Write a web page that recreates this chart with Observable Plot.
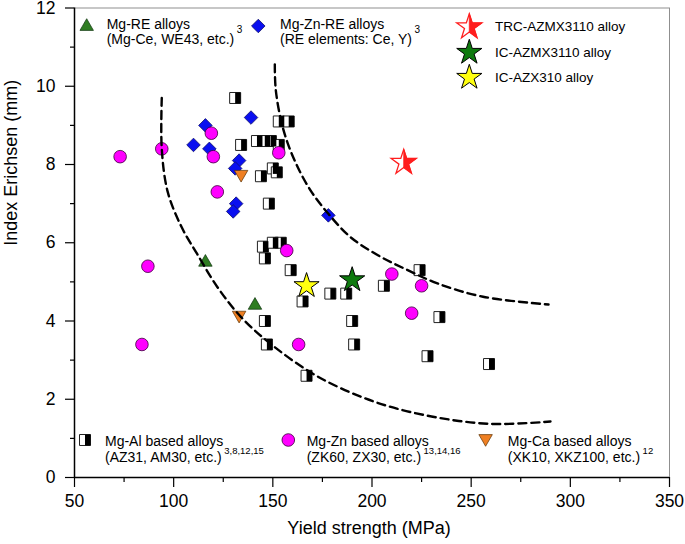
<!DOCTYPE html>
<html>
<head>
<meta charset="utf-8">
<script src="https://cdn.jsdelivr.net/npm/d3@7"></script>
<script src="https://cdn.jsdelivr.net/npm/@observablehq/plot@0.6"></script>
<style>
  html, body { margin: 0; padding: 0; background: white; }
  #chart { width: 685px; height: 544px; }
</style>
</head>
<body>
<div id="chart"></div>
<script>
const FONT = "'Liberation Sans', Arial, Helvetica, sans-serif";

// ---- data ----
// Mg-Al based alloys (half-filled squares)
const alX = [131,153,158,134,142,146,149,153,150,152,144,148,145,150,154,146,159,165,146,147,167,179,187,206,224,190,191,234,228,259];
const alY = [9.7,9.1,9.1,8.5,8.6,8.6,8.6,8.5,7.9,7.8,7.7,7.0,5.9,6.0,6.0,5.6,5.3,4.5,4.0,3.4,2.6,4.7,4.7,4.9,5.3,4.0,3.4,4.1,3.1,2.9];
// Mg-Zn based alloys (magenta circles)
const znX = [73,94,119,120,122,87,84,157,153,163,210,225,220];
const znY = [8.2,8.4,8.8,8.2,7.3,5.4,3.4,5.8,8.3,3.4,5.2,4.9,4.2];
// Mg-Zn-RE alloys (blue diamonds)
const zreX = [139,116,110,118,133,131,131.5,130,178];
const zreY = [9.2,9.0,8.5,8.4,8.1,7.9,7.0,6.8,6.7];
// Mg-RE alloys (green triangles)
const reX = [116,141];
const reY = [5.5,4.4];
// Mg-Ca based alloys (orange inverted triangles)
const caX = [134,133];
const caY = [7.75,4.15];
// Stars
const trcX = [216], trcY = [8.05];
const icX = [190], icY = [5.05];
const icxX = [167], icxY = [4.9];
// dashed guide curves
const lowX = [94,94,97,104,112,122,134,150,173,201,230,260,290];
const lowY = [9.7,8.4,7.3,6.4,5.7,4.87,4.1,3.37,2.57,1.94,1.56,1.37,1.43];
const upX = [151,151.5,155,161,169,178,189,203,218,233,256,289];
const upY = [10.56,9.9,8.95,8.1,7.34,6.74,6.15,5.68,5.3,4.96,4.62,4.42];
// ticks
const xMajor = [50,100,150,200,250,300,350];
const xMinor = [75,125,175,225,275,325];
const yMajor = [0,2,4,6,8,10,12];
const yMinor = [1,3,5,7,9,11];
// texts
const xTitle = "Yield strength (MPa)";
const yTitle = "Index Erichsen (mm)";
const legTopLeft = [
  {l1: "Mg-RE alloys", l2: "(Mg-Ce, WE43, etc.)", sup: "3"},
  {l1: "Mg-Zn-RE alloys", l2: "(RE elements: Ce, Y)", sup: "3"}
];
const legTopRight = ["TRC-AZMX3110 alloy", "IC-AZMX3110 alloy", "IC-AZX310 alloy"];
const legBottom = [
  {l1: "Mg-Al based alloys", l2: "(AZ31, AM30, etc.)", sup: "3,8,12,15"},
  {l1: "Mg-Zn based alloys", l2: "(ZK60, ZX30, etc.)", sup: "13,14,16"},
  {l1: "Mg-Ca based alloys", l2: "(XK10, XKZ100, etc.)", sup: "12"}
];

const rows = (xs, ys) => xs.map((x, i) => ({x, y: ys[i]}));

// ---- custom symbols ----
const halfSquare = {draw(ctx, size) {
  const s = Math.sqrt(size) / 2;
  ctx.moveTo(0, -s); ctx.lineTo(s, -s); ctx.lineTo(s, s); ctx.lineTo(0, s); ctx.closePath();
}};
const triangleDown = {draw(ctx, size) {
  const y = Math.sqrt(size / (Math.sqrt(3) * 3));
  ctx.moveTo(0, 2 * y); ctx.lineTo(-Math.sqrt(3) * y, -y); ctx.lineTo(Math.sqrt(3) * y, -y); ctx.closePath();
}};
const ka = 0.8908130915292852;
const kr = Math.sin(Math.PI / 10) / Math.sin(7 * Math.PI / 10);
const halfStar = {draw(ctx, size) {
  const R = Math.sqrt(size * ka), ri = kr * R;
  ctx.moveTo(0, -R);
  for (let k = 1; k <= 5; k++) {
    const th = k * Math.PI / 5, rad = (k % 2) ? ri : R;
    ctx.lineTo(Math.sin(th) * rad, -Math.cos(th) * rad);
  }
  ctx.closePath();
}};

const C = {
  green: "#2f7d22", star: "#0e7a0e", blue: "#0a0ff0", magenta: "#ff00ff",
  orange: "#ef7f22", yellow: "#ffff10", red: "#ff1e1e"
};
const R = {sq: 6.2, circ: 6.3, dia: 6.1, tri: 5.0, star: 7.9};

const chart = Plot.plot({
  width: 685, height: 544,
  marginLeft: 74, marginRight: 16, marginTop: 7.5, marginBottom: 67,
  x: {domain: [50, 350], label: null},
  y: {domain: [0, 12], label: null},
  style: {fontFamily: FONT, background: "white", color: "black"},
  marks: [
    Plot.frame({stroke: "#8f8f8f", strokeWidth: 1}),
    Plot.axisX({ticks: xMinor, tickSize: 5, tickFormat: () => "", strokeWidth: 1.2, label: null}),
    Plot.axisY({ticks: yMinor, tickSize: 4, tickFormat: () => "", strokeWidth: 1.2, label: null}),
    Plot.axisX({ticks: xMajor, tickSize: 10, tickPadding: 7, fontSize: 17.5, strokeWidth: 1.2, label: null}),
    Plot.axisY({ticks: yMajor, tickSize: 9, tickPadding: 10, fontSize: 17.5, strokeWidth: 1.2, label: null}),
    Plot.ruleX([50], {stroke: "black", strokeWidth: 1.5}),
    Plot.ruleY([0], {stroke: "black", strokeWidth: 1.5}),
    // Mg-Al squares
    Plot.dot(rows(alX, alY), {x: "x", y: "y", symbol: "square", r: R.sq, fill: "white", stroke: "#222", strokeWidth: 1}),
    Plot.dot(rows(alX, alY), {x: "x", y: "y", symbol: halfSquare, r: R.sq, fill: "black", stroke: "none"}),
    // Mg-Zn-RE diamonds
    Plot.dot(rows(zreX, zreY), {x: "x", y: "y", symbol: "diamond2", r: R.dia, fill: C.blue, stroke: "#10106a", strokeWidth: 0.8}),
    // Mg-Zn circles
    Plot.dot(rows(znX, znY), {x: "x", y: "y", symbol: "circle", r: R.circ, fill: C.magenta, stroke: "#3a003a", strokeWidth: 0.8}),
    // Mg-Ca inverted triangles
    Plot.dot(rows(caX, caY), {x: "x", y: "y", symbol: triangleDown, r: R.tri, fill: C.orange, stroke: "#5a3000", strokeWidth: 0.7}),
    // Mg-RE triangles
    Plot.dot(rows(reX, reY), {x: "x", y: "y", symbol: "triangle", r: R.tri, fill: C.green, stroke: "#0c300c", strokeWidth: 0.7}),
    // stars
    Plot.dot(rows(icX, icY), {x: "x", y: "y", symbol: "star", r: R.star, fill: C.star, stroke: "black", strokeWidth: 1}),
    Plot.dot(rows(icxX, icxY), {x: "x", y: "y", symbol: "star", r: R.star, fill: C.yellow, stroke: "black", strokeWidth: 1}),
    Plot.dot(rows(trcX, trcY), {x: "x", y: "y", symbol: "star", r: R.star, fill: "white", stroke: C.red, strokeWidth: 1.3}),
    Plot.dot(rows(trcX, trcY), {x: "x", y: "y", symbol: halfStar, r: R.star, fill: C.red, stroke: C.red, strokeWidth: 0.8}),
    // dashed guides
    Plot.line(rows(lowX, lowY), {x: "x", y: "y", curve: "catmull-rom", stroke: "black", strokeWidth: 2.4, strokeDasharray: "8,5"}),
    Plot.line(rows(upX, upY), {x: "x", y: "y", curve: "catmull-rom", stroke: "black", strokeWidth: 2.4, strokeDasharray: "8,5"}),
    // axis titles
    Plot.text([xTitle], {frameAnchor: "bottom", dx: -3, dy: 56, lineAnchor: "bottom", fontSize: 18, fill: "black"}),
    Plot.text([yTitle], {frameAnchor: "left", rotate: -90, dx: -63, dy: 3, fontSize: 18, fill: "black"})
  ]
});
document.getElementById("chart").appendChild(chart);

// ---- in-plot legends ----
const svg = d3.select(chart);
const lg = svg.append("g").attr("font-family", FONT).attr("fill", "black").attr("text-anchor", "start");
function sym(type, r, x, y, fill, stroke, sw) {
  lg.append("path")
    .attr("transform", `translate(${x},${y})`)
    .attr("d", d3.symbol(type, Math.PI * r * r)())
    .attr("fill", fill).attr("stroke", stroke).attr("stroke-width", sw);
}
function label(x, y1, y2, item, fs, supFs, supDy) {
  lg.append("text").attr("x", x).attr("y", y1).attr("font-size", fs).attr("text-anchor", "start").text(item.l1);
  const t = lg.append("text").attr("x", x).attr("y", y2).attr("font-size", fs).attr("text-anchor", "start");
  t.append("tspan").text(item.l2);
  t.append("tspan").attr("font-size", supFs).attr("dx", 2.5).attr("dy", supDy).text(item.sup);
}
// top-left
sym(d3.symbolTriangle, R.tri, 86.7, 26.5, C.green, "#0c300c", 0.7);
label(106.7, 28.5, 43.5, legTopLeft[0], 14, 10, -11);
sym(d3.symbolDiamond2, R.dia, 258.3, 26, C.blue, "#10106a", 0.8);
label(280, 28.5, 43.5, legTopLeft[1], 14, 10, -11);
// top-right
sym(d3.symbolStar, R.star, 469.3, 27, "white", C.red, 1.3);
sym(halfStar, R.star, 469.3, 27, C.red, C.red, 0.8);
sym(d3.symbolStar, R.star, 469.3, 52.5, C.star, "black", 1);
sym(d3.symbolStar, R.star, 469.3, 77.5, C.yellow, "black", 1);
legTopRight.forEach((s, i) => {
  lg.append("text").attr("x", 495).attr("y", [30.5, 56.5, 82.3][i]).attr("font-size", 13.5).attr("text-anchor", "start").text(s);
});
// bottom
sym(d3.symbolSquare, R.sq, 85, 440, "white", "#222", 1);
sym(halfSquare, R.sq, 85, 440, "black", "none", 0);
label(105, 445.7, 462.3, legBottom[0], 14, 9.5, -8);
sym(d3.symbolCircle, R.circ, 288.3, 440, C.magenta, "#3a003a", 0.8);
label(306.7, 445.7, 462.3, legBottom[1], 14, 9.5, -8);
sym(triangleDown, R.tri, 485.6, 438.5, C.orange, "#5a3000", 0.7);
label(507.8, 445.7, 462.3, legBottom[2], 14, 9.5, -8);
</script>
</body>
</html>
